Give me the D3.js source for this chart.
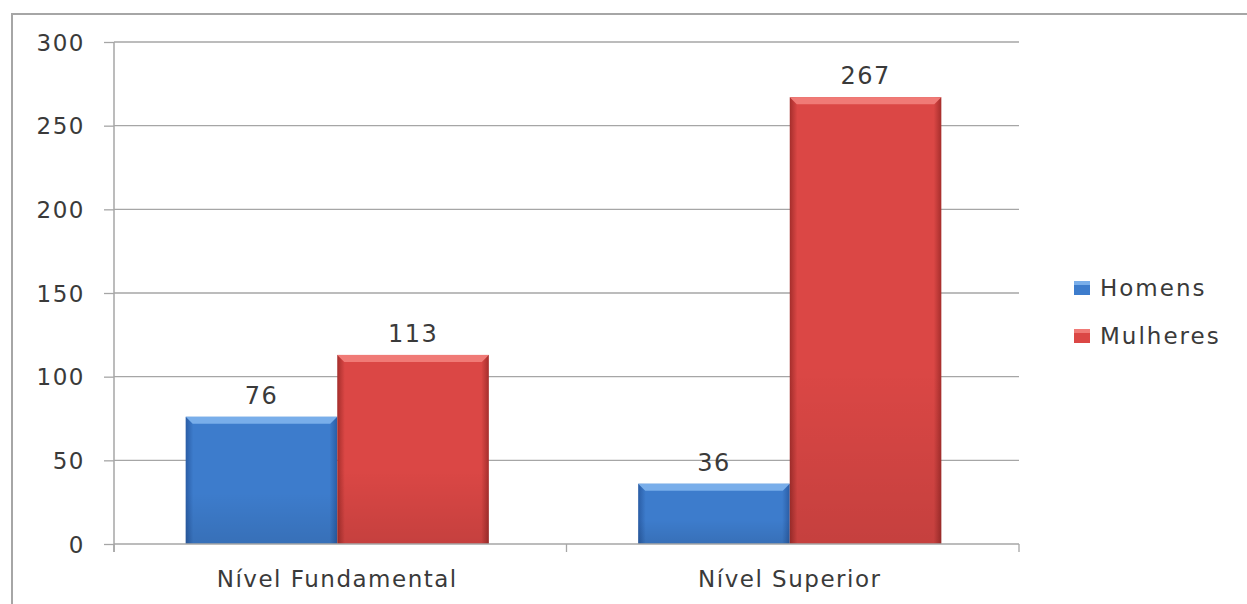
<!DOCTYPE html>
<html>
<head>
<meta charset="utf-8">
<script src="https://cdn.jsdelivr.net/npm/d3@7"></script>
<style>
  body { margin: 0; background: #fff; }
  svg text { font-family: "DejaVu Sans", Verdana, sans-serif; fill: #3a3a3a; }
</style>
</head>
<body>
<svg id="chart" width="1247" height="604"></svg>
<script>
const categories = ["Nível Fundamental", "Nível Superior"];
const series = ["Homens", "Mulheres"];
const homens = [76, 36];
const mulheres = [113, 267];
const yTicks = [0, 50, 100, 150, 200, 250, 300];

const colors = {
    Homens: { base: "#3d7ccc", light: "#79aeea", dark: "#2a5da5" },
    Mulheres: { base: "#db4745", light: "#f07a76", dark: "#a52e2c" }
};

const svg = d3.select("#chart");

// outer frame
svg.append("rect")
    .attr("x", 12).attr("y", 14)
    .attr("width", 1260).attr("height", 620)
    .attr("fill", "none").attr("stroke", "#a6a6a6").attr("stroke-width", 2);

const margin = { left: 114, right: 1019, top: 42, bottom: 544 };

const y = d3.scaleLinear().domain([0, 300]).range([margin.bottom, margin.top]);
const x0 = d3.scaleBand().domain(categories).range([margin.left - 3, margin.right - 3]).paddingInner(0.33).paddingOuter(0.165);
const x1 = d3.scaleBand().domain(series).range([0, x0.bandwidth()]);

// gradients
const defs = svg.append("defs");
series.forEach(s => {
    const c = colors[s];
    const g = defs.append("linearGradient").attr("id", "grad-" + s).attr("x1", 0).attr("x2", 1).attr("y1", 0).attr("y2", 0);
    g.append("stop").attr("offset", "0%").attr("stop-color", c.dark);
    g.append("stop").attr("offset", "5%").attr("stop-color", c.base);
    g.append("stop").attr("offset", "95%").attr("stop-color", c.base);
    g.append("stop").attr("offset", "100%").attr("stop-color", c.dark);
    const v = defs.append("linearGradient").attr("id", "vgrad-" + s).attr("x1", 0).attr("x2", 0).attr("y1", 0).attr("y2", 1);
    v.append("stop").attr("offset", "0%").attr("stop-color", "#000").attr("stop-opacity", 0.0);
    v.append("stop").attr("offset", "60%").attr("stop-color", "#000").attr("stop-opacity", 0.0);
    v.append("stop").attr("offset", "100%").attr("stop-color", "#000").attr("stop-opacity", 0.1);
});

// gridlines
svg.append("g")
    .selectAll("line")
    .data(yTicks.filter(d => d > 0))
    .join("line")
    .attr("x1", margin.left).attr("x2", margin.right)
    .attr("y1", d => y(d)).attr("y2", d => y(d))
    .attr("stroke", "#a6a6a6").attr("stroke-width", 1.3);

// y axis
const yAxis = svg.append("g")
    .attr("transform", `translate(${margin.left},0)`)
    .call(d3.axisLeft(y).tickValues(yTicks).tickSize(10).tickPadding(19));
yAxis.select(".domain").attr("stroke", "#a6a6a6").attr("stroke-width", 1.5).attr("d", `M0,${margin.top}V${margin.bottom + 8}`);
yAxis.selectAll(".tick line").attr("stroke", "#a6a6a6").attr("stroke-width", 1.3);
yAxis.selectAll(".tick text").style("font-size", "23px").style("letter-spacing", "1.5px").attr("fill", "#3a3a3a").attr("dy", "0.35em");

// bars
const rows = categories.map((c, i) => ({ cat: c, values: [{ s: "Homens", v: homens[i] }, { s: "Mulheres", v: mulheres[i] }] }));

const groups = svg.append("g").selectAll("g")
    .data(rows).join("g")
    .attr("transform", d => `translate(${x0(d.cat)},0)`);

const bars = groups.selectAll("g.bar")
    .data(d => d.values).join("g").attr("class", "bar");

bars.append("rect")
    .attr("x", d => x1(d.s))
    .attr("y", d => y(d.v))
    .attr("width", x1.bandwidth())
    .attr("height", d => y(0) - y(d.v))
    .attr("fill", d => `url(#grad-${d.s})`);

bars.append("rect")
    .attr("x", d => x1(d.s))
    .attr("y", d => y(d.v))
    .attr("width", x1.bandwidth())
    .attr("height", d => y(0) - y(d.v))
    .attr("fill", d => `url(#vgrad-${d.s})`);

// top bevel
bars.append("path")
    .attr("d", d => {
        const x = x1(d.s), w = x1.bandwidth(), t = y(d.v), b = 7;
        return `M${x},${t}H${x + w}L${x + w - b},${t + b}H${x + b}Z`;
    })
    .attr("fill", d => colors[d.s].light);

bars.append("text")
    .attr("x", d => x1(d.s) + x1.bandwidth() / 2)
    .attr("y", d => y(d.v) - 13)
    .attr("text-anchor", "middle")
    .style("font-size", "24px")
    .style("letter-spacing", "1.5px")
    .text(d => d.v);

// x axis
const xAxisG = svg.append("g").attr("transform", `translate(0,${margin.bottom})`);
xAxisG.append("line")
    .attr("x1", margin.left).attr("x2", margin.right)
    .attr("stroke", "#a6a6a6").attr("stroke-width", 1.5);
const xTickPos = [margin.left, (margin.left + margin.right) / 2, margin.right];
xAxisG.selectAll("line.tick")
    .data(xTickPos).join("line").attr("class", "tick")
    .attr("x1", d => d).attr("x2", d => d)
    .attr("y1", 0).attr("y2", 8)
    .attr("stroke", "#a6a6a6").attr("stroke-width", 1.3);
xAxisG.selectAll("text")
    .data(categories).join("text")
    .attr("x", d => x0(d) + x0.bandwidth() / 2)
    .attr("y", 43)
    .attr("text-anchor", "middle")
    .style("font-size", "23px")
    .style("letter-spacing", "1.5px")
    .text(d => d);

// legend
const legend = svg.append("g").attr("transform", "translate(1074,288)");
series.forEach((s, i) => {
    const g = legend.append("g").attr("transform", `translate(0,${i * 48})`);
    g.append("rect").attr("x", 0).attr("y", -7).attr("width", 16).attr("height", 14)
        .attr("fill", colors[s].base);
    g.append("rect").attr("x", 0).attr("y", -7).attr("width", 16).attr("height", 4)
        .attr("fill", colors[s].light);
    g.append("text").attr("x", 26).attr("y", 0).attr("dy", "0.35em")
        .style("font-size", "23px").style("letter-spacing", "2px").text(s);
});
</script>
</body>
</html>
